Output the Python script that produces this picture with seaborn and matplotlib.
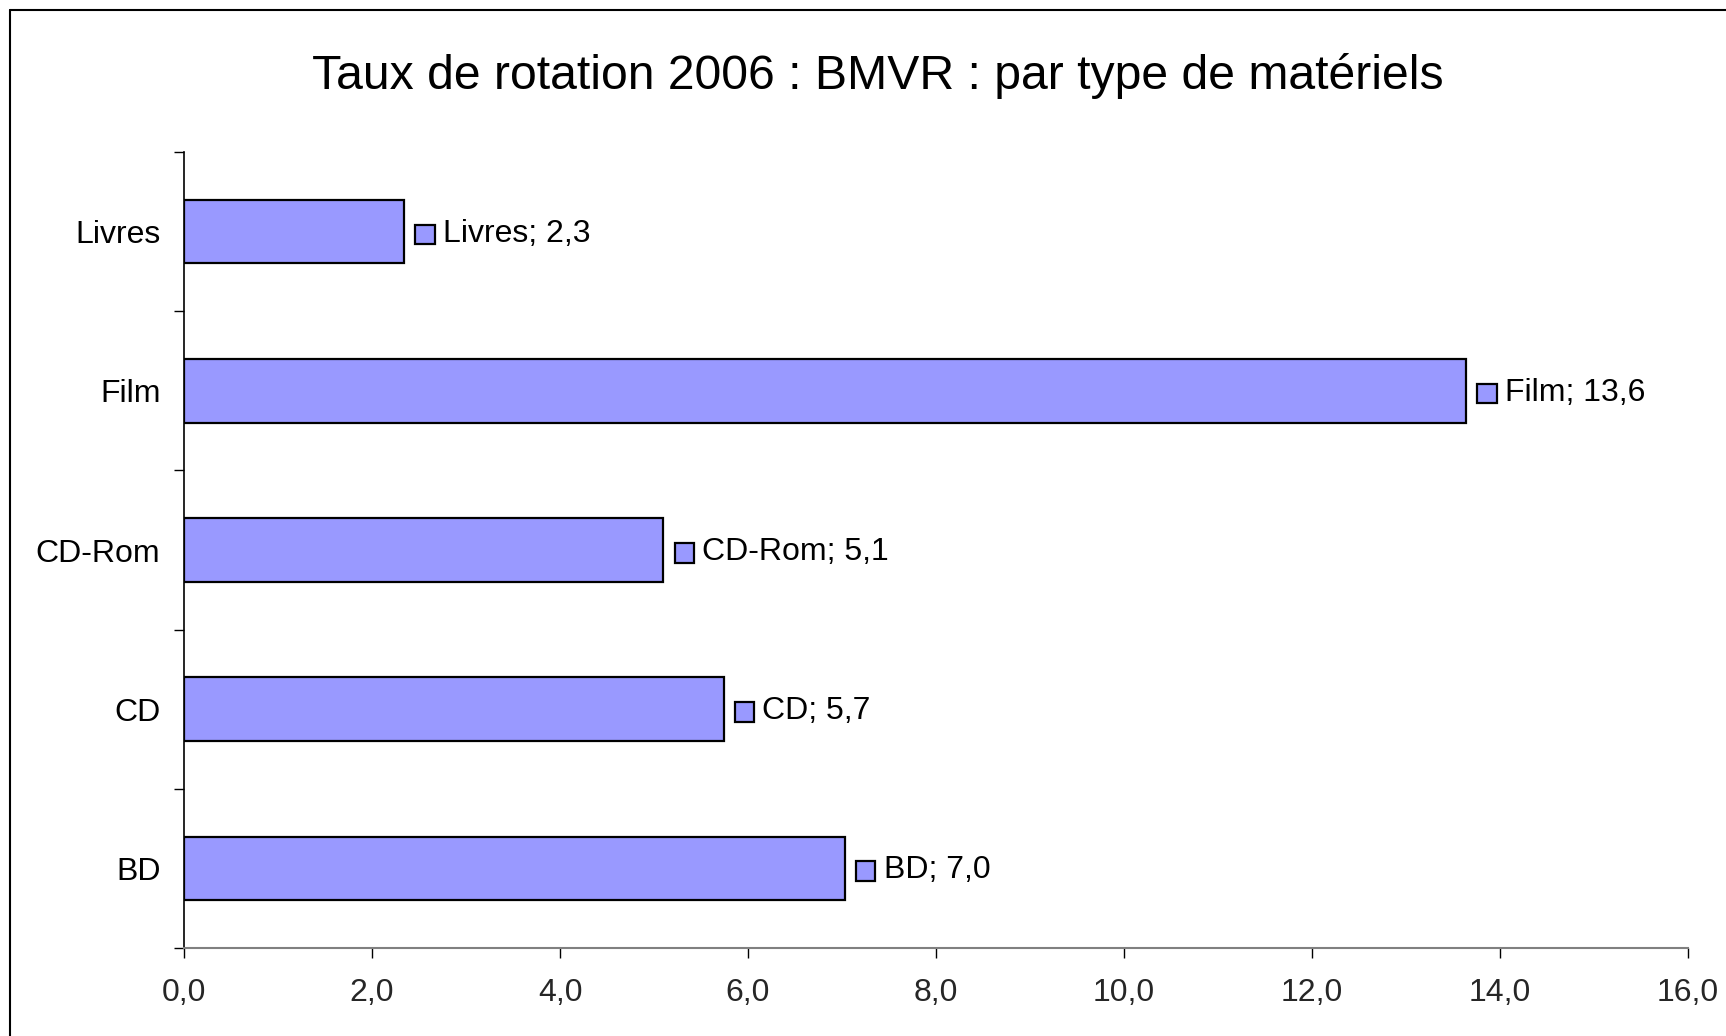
import matplotlib
matplotlib.use("Agg")
import matplotlib.pyplot as plt
import seaborn as sns
import pandas as pd
from matplotlib.ticker import FuncFormatter, FixedLocator
from matplotlib.lines import Line2D
from matplotlib.patches import Rectangle
from matplotlib.offsetbox import AnnotationBbox, HPacker, TextArea, DrawingArea

categories = ["Livres", "Film", "CD-Rom", "CD", "BD"]
values = [2.34, 13.64, 5.10, 5.74, 7.03]
x_ticks = [0, 2, 4, 6, 8, 10, 12, 14, 16]
title = "Taux de rotation 2006 : BMVR : par type de matériels"

bar_color = "#9999FF"

sns.set_theme(style="white")
plt.rcParams["font.family"] = ["Liberation Sans", "DejaVu Sans"]

fig = plt.figure(figsize=(17.26, 10.36), dpi=100)
W, H = 1726, 1036
ax = fig.add_axes([184 / W, (H - 948) / H, (1688 - 184) / W, (948 - 152) / H])

df = pd.DataFrame({"cat": categories, "val": values})
sns.barplot(data=df, y="cat", x="val", orient="h", color=bar_color, saturation=1,
            width=0.4, edgecolor="black", linewidth=1.6, ax=ax)

ax.set_xlim(x_ticks[0], x_ticks[-1])
ax.set_ylim(len(categories) - 0.5, -0.5)
ax.set_xlabel("")
ax.set_ylabel("")
ax.set_xticks(x_ticks)
ax.xaxis.set_major_formatter(FuncFormatter(lambda v, p: f"{v:.1f}".replace(".", ",")))
ax.yaxis.set_minor_locator(FixedLocator([i - 0.5 for i in range(len(categories) + 1)]))
ax.tick_params(axis="y", which="major", length=0, pad=17, labelsize=23, colors="black")
ax.tick_params(axis="y", which="minor", length=7.5, width=1, color="black", left=True)
ax.tick_params(axis="x", which="major", length=7.5, width=1, color="black", pad=14,
               labelsize=23, bottom=True)

for s in ["top", "right"]:
    ax.spines[s].set_visible(False)
ax.spines["left"].set_color("black")
ax.spines["left"].set_linewidth(1.2)
ax.spines["bottom"].set_color("#808080")
ax.spines["bottom"].set_linewidth(1.5)

# data labels with legend-key square
for i, (c, v) in enumerate(zip(categories, values)):
    da = DrawingArea(15, 15, 0, 0)
    da.add_artist(Rectangle((0, 0), 14, 14, facecolor=bar_color, edgecolor="black", linewidth=1.6))
    ta = TextArea(f"{c}; " + f"{v:.1f}".replace(".", ","),
                  textprops=dict(fontsize=23, color="black", family=["Liberation Sans", "DejaVu Sans"]))
    pack = HPacker(children=[da, ta], align="center", pad=0, sep=5)
    ab = AnnotationBbox(pack, (v, i), xybox=(8, -1.5), xycoords="data", boxcoords="offset points",
                        box_alignment=(0, 0.5), frameon=False, pad=0)
    ax.add_artist(ab)

fig.suptitle(title, fontsize=34.7, x=878 / W, y=1 - 76 / H, va="center", ha="center", color="black")

# figure border (top and left visible)
fig.add_artist(Line2D([10 / W, 10 / W], [0, 1 - 10 / H], transform=fig.transFigure, color="black", linewidth=1.5))
fig.add_artist(Line2D([10 / W, 1], [1 - 10 / H, 1 - 10 / H], transform=fig.transFigure, color="black", linewidth=1.5))

fig.savefig("out.png", dpi=100, facecolor="white")
